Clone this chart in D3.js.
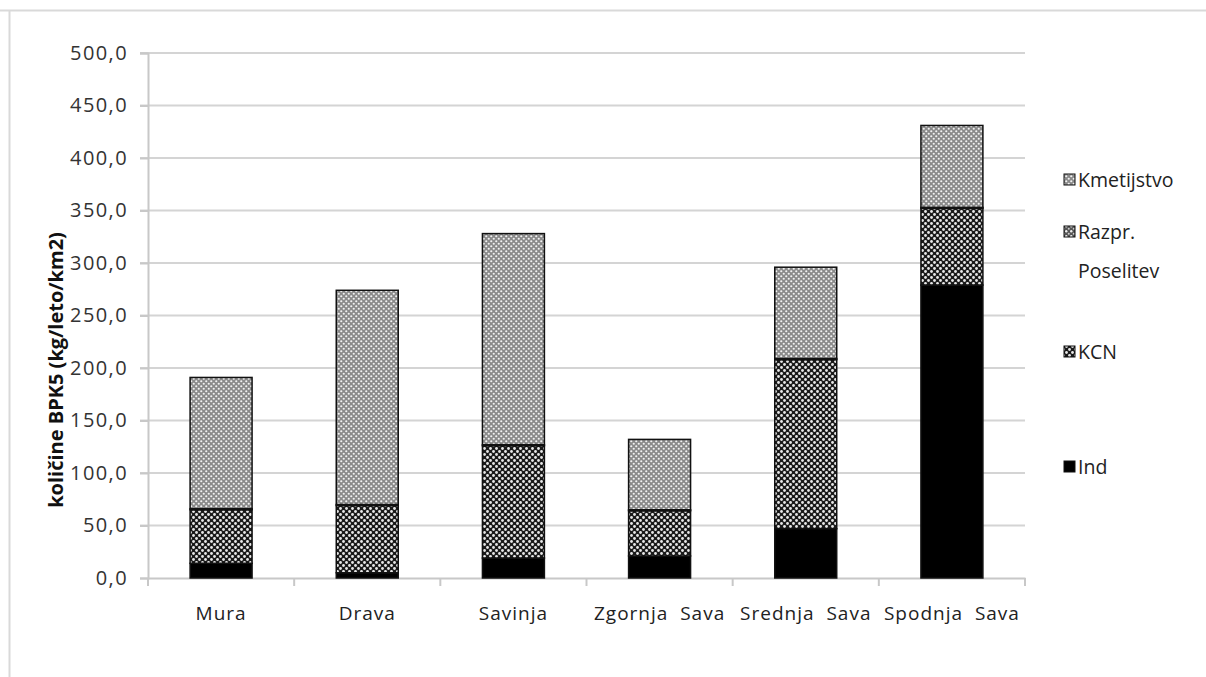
<!DOCTYPE html>
<html><head><meta charset="utf-8">
<script src="https://cdn.jsdelivr.net/npm/d3@7"></script>
<style>body{margin:0;background:#fff}svg{display:block}</style>
</head><body>
<svg id="c" width="1206" height="677"></svg>
<script>
const categories = ["Mura","Drava","Savinja","Zgornja  Sava","Srednja  Sava","Spodnja  Sava"];
const seriesNames = ["Ind","KCN","Razpr. Poselitev","Kmetijstvo"];
const ind = [14, 5, 19, 21, 47, 279];
const kcn = [51, 64, 107, 43, 161, 73];
const razpr = [1, 1, 1, 1, 1, 1];
const kmetijstvo = [125, 204, 201, 67, 87, 78];
const yTicks = [0,50,100,150,200,250,300,350,400,450,500];

const svg = d3.select("#c");
const font = "'Open Sans', 'DejaVu Sans', sans-serif";

// frame lines
svg.append("line").attr("x1",0).attr("x2",1206).attr("y1",10.5).attr("y2",10.5).attr("stroke","#d9d9d9").attr("stroke-width",2);
svg.append("line").attr("x1",9.5).attr("x2",9.5).attr("y1",10).attr("y2",677).attr("stroke","#d9d9d9").attr("stroke-width",2);

// patterns
const defs = svg.append("defs");
const pK = defs.append("pattern").attr("id","pKCN").attr("patternUnits","userSpaceOnUse").attr("width",6).attr("height",6);
pK.append("rect").attr("width",6).attr("height",6).attr("fill","#1a1a1a");
pK.append("circle").attr("cx",1.5).attr("cy",1.5).attr("r",1.4).attr("fill","#e8e8e8");
pK.append("circle").attr("cx",4.5).attr("cy",4.5).attr("r",1.4).attr("fill","#e8e8e8");
const pT = defs.append("pattern").attr("id","pKmet").attr("patternUnits","userSpaceOnUse").attr("width",5).attr("height",5);
pT.append("rect").attr("width",5).attr("height",5).attr("fill","#8a8a8a");
pT.append("circle").attr("cx",1.25).attr("cy",1.25).attr("r",1.1).attr("fill","#f2f2f2");
pT.append("circle").attr("cx",3.75).attr("cy",3.75).attr("r",1.1).attr("fill","#f2f2f2");
const pR = defs.append("pattern").attr("id","pRazpr").attr("patternUnits","userSpaceOnUse").attr("width",5).attr("height",5);
pR.append("rect").attr("width",5).attr("height",5).attr("fill","#555");
pR.append("circle").attr("cx",1.25).attr("cy",1.25).attr("r",1.2).attr("fill","#eee");
pR.append("circle").attr("cx",3.75).attr("cy",3.75).attr("r",1.0).attr("fill","#ccc");
const fills = {"Ind":"#000","KCN":"url(#pKCN)","Razpr. Poselitev":"url(#pRazpr)","Kmetijstvo":"url(#pKmet)"};

const x0 = 148, x1 = 1025, yTop = 53, yBot = 578;
const x = d3.scaleBand().domain(categories).range([x0,x1]).padding(0);
const y = d3.scaleLinear().domain([0,500]).range([yBot,yTop]);

// gridlines
svg.append("g").selectAll("line").data(yTicks.filter(d=>d>0)).join("line")
  .attr("x1",x0-8).attr("x2",x1).attr("y1",d=>y(d)).attr("y2",d=>y(d))
  .attr("stroke","#d4d4d4").attr("stroke-width",2);

// y axis
const yAxis = d3.axisLeft(y).tickValues(yTicks).tickSize(8).tickFormat(d=>d3.format(".1f")(d).replace(".",","));
const gy = svg.append("g").attr("transform",`translate(${x0},0)`).call(yAxis);
gy.select(".domain").attr("stroke","#c8c8c8").attr("stroke-width",2);
gy.selectAll(".tick line").attr("stroke","#c8c8c8").attr("stroke-width",2);
gy.selectAll(".tick text").attr("x",-20).attr("font-family",font).attr("font-size",20)
  .attr("letter-spacing","1.4px").attr("fill","#333");

// x axis
const xAxis = d3.axisBottom(x).tickSize(0);
const gx = svg.append("g").attr("transform",`translate(0,${yBot})`).call(xAxis);
gx.select(".domain").attr("stroke","#c8c8c8").attr("stroke-width",2);
gx.selectAll(".tick text").attr("y",29).attr("font-family",font).attr("font-size",19)
  .attr("letter-spacing","1px").attr("fill","#222").style("white-space","pre");
// boundary ticks
const bounds = categories.map(c=>x(c)).concat([x1]);
gx.append("g").selectAll("line").data(bounds).join("line")
  .attr("x1",d=>d).attr("x2",d=>d).attr("y1",0).attr("y2",8).attr("stroke","#c8c8c8").attr("stroke-width",2);

// stacked bars
const rows = categories.map((c,i)=>({cat:c,"Ind":ind[i],"KCN":kcn[i],"Razpr. Poselitev":razpr[i],"Kmetijstvo":kmetijstvo[i]}));
const stack = d3.stack().keys(seriesNames)(rows);
const bw = x.bandwidth()*0.424;
const gb = svg.append("g");
stack.forEach(s=>{
  gb.append("g").selectAll("rect").data(s).join("rect")
    .attr("x",d=>x(d.data.cat)+(x.bandwidth()-bw)/2)
    .attr("width",bw)
    .attr("y",d=>y(d[1]))
    .attr("height",d=>y(d[0])-y(d[1]))
    .attr("fill",fills[s.key])
    .attr("stroke","#111").attr("stroke-width",1.5);
});

// y title
svg.append("text").attr("transform","translate(56,370) rotate(-90)")
  .attr("text-anchor","middle").attr("dy","0.35em").attr("font-family",font).attr("font-weight","bold")
  .attr("font-size",20).attr("fill","#111").text("količine BPK5 (kg/leto/km2)");

// legend
const legend = [
  {name:"Kmetijstvo", lines:["Kmetijstvo"], y:180},
  {name:"Razpr. Poselitev", lines:["Razpr.","Poselitev"], y:232},
  {name:"KCN", lines:["KCN"], y:352},
  {name:"Ind", lines:["Ind"], y:467}
];
const gl = svg.append("g");
legend.forEach(l=>{
  gl.append("rect").attr("x",1064).attr("y",l.y-6).attr("width",11).attr("height",11)
    .attr("fill",fills[l.name]).attr("stroke","#111").attr("stroke-width",1);
  l.lines.forEach((t,k)=>{
    gl.append("text").attr("x",1078).attr("y",l.y+k*39).attr("dy","0.35em")
      .attr("font-family",font).attr("font-size",19.5).attr("fill","#222").text(t);
  });
});
</script>
</body></html>
